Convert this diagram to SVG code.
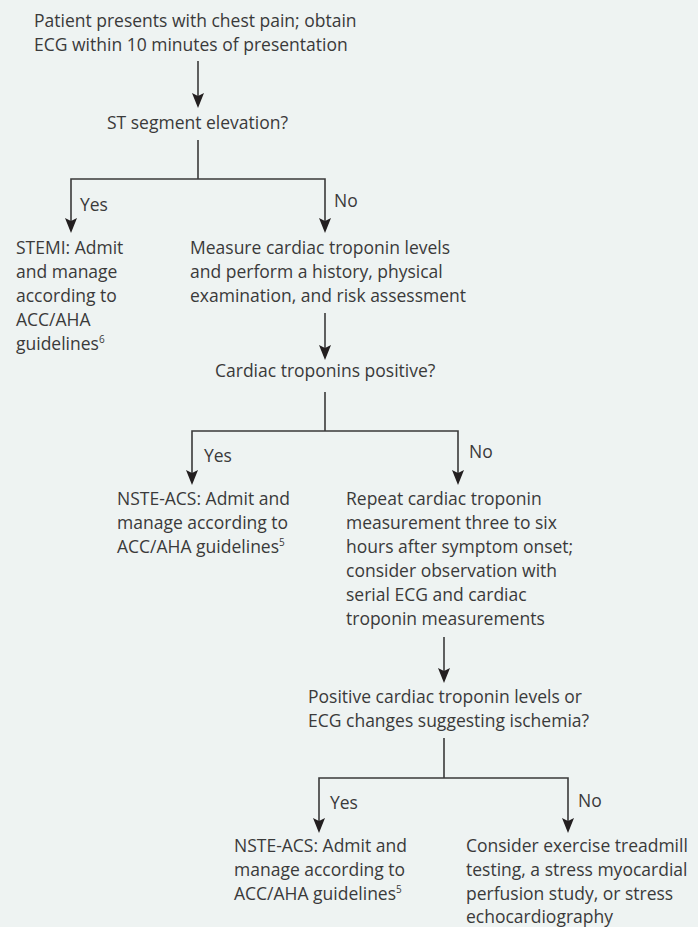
<svg xmlns="http://www.w3.org/2000/svg" width="698" height="927" viewBox="0 0 698 927">
<defs>
<style>
text{font-family:"Open Sans","Noto Sans","Liberation Sans",sans-serif;font-size:17.5px;fill:#3a3a3a;}
.sup{font-size:10px;}
.ln{stroke:#3a3a3a;stroke-width:1.6;fill:none;}
.ar{fill:#231f20;}
</style>
</defs>
<rect width="698" height="927" fill="#eef3f2"/>
<g id="connectors">
<path class="ln" d="M198,61 V100"/><path class="ar" d="M192,93 L198,108 L204,93 L198,96 Z"/>
<path class="ln" d="M198,140 V179 M71,226 V179 H325 V226"/>
<path class="ar" d="M65,218 L71,233 L77,218 L71,221 Z"/><path class="ar" d="M319,218 L325,233 L331,218 L325,221 Z"/>
<path class="ln" d="M325,313 V352"/><path class="ar" d="M319,345 L325,360 L331,345 L325,348 Z"/>
<path class="ln" d="M325,392 V431 M192,478 V431 H458 V478"/>
<path class="ar" d="M186,470 L192,485 L198,470 L192,473 Z"/><path class="ar" d="M452,470 L458,485 L464,470 L458,473 Z"/>
<path class="ln" d="M444,637 V676"/><path class="ar" d="M438,668 L444,683 L450,668 L444,671 Z"/>
<path class="ln" d="M444,738 V778 M319,826 V778 H568 V826"/>
<path class="ar" d="M313,818 L319,833 L325,818 L319,821 Z"/><path class="ar" d="M562,818 L568,833 L574,818 L568,821 Z"/>
<text x="80" y="211">Yes</text>
<text x="334" y="207">No</text>
<text x="204" y="462">Yes</text>
<text x="469" y="458">No</text>
<text x="330" y="809">Yes</text>
<text x="578" y="807">No</text>
</g>
<g id="start">
<text x="34" y="27">Patient presents with chest pain; obtain</text>
<text x="34" y="51">ECG within 10 minutes of presentation</text>
</g>
<g id="st-elevation">
<text x="107" y="129">ST segment elevation?</text>
</g>
<g id="stemi">
<text x="16" y="254">STEMI: Admit</text>
<text x="16" y="278">and manage</text>
<text x="16" y="302">according to</text>
<text x="16" y="326">ACC/AHA</text>
<text x="16" y="350">guidelines<tspan class="sup" dy="-7">6</tspan></text>
</g>
<g id="measure">
<text x="190" y="254">Measure cardiac troponin levels</text>
<text x="190" y="278">and perform a history, physical</text>
<text x="190" y="302">examination, and risk assessment</text>
</g>
<g id="troponins-positive">
<text x="215" y="377">Cardiac troponins positive?</text>
</g>
<g id="nste-acs-1">
<text x="117" y="505">NSTE-ACS: Admit and</text>
<text x="117" y="529">manage according to</text>
<text x="117" y="553">ACC/AHA guidelines<tspan class="sup" dy="-7">5</tspan></text>
</g>
<g id="repeat">
<text x="346" y="505">Repeat cardiac troponin</text>
<text x="346" y="529">measurement three to six</text>
<text x="346" y="553">hours after symptom onset;</text>
<text x="346" y="577">consider observation with</text>
<text x="346" y="601">serial ECG and cardiac</text>
<text x="346" y="625">troponin measurements</text>
</g>
<g id="positive-or-ecg">
<text x="308" y="703">Positive cardiac troponin levels or</text>
<text x="308" y="727">ECG changes suggesting ischemia?</text>
</g>
<g id="nste-acs-2">
<text x="234" y="852">NSTE-ACS: Admit and</text>
<text x="234" y="876">manage according to</text>
<text x="234" y="900">ACC/AHA guidelines<tspan class="sup" dy="-7">5</tspan></text>
</g>
<g id="stress-testing">
<text x="466" y="852">Consider exercise treadmill</text>
<text x="466" y="876">testing, a stress myocardial</text>
<text x="466" y="900">perfusion study, or stress</text>
<text x="466" y="923">echocardiography</text>
</g>
</svg>
